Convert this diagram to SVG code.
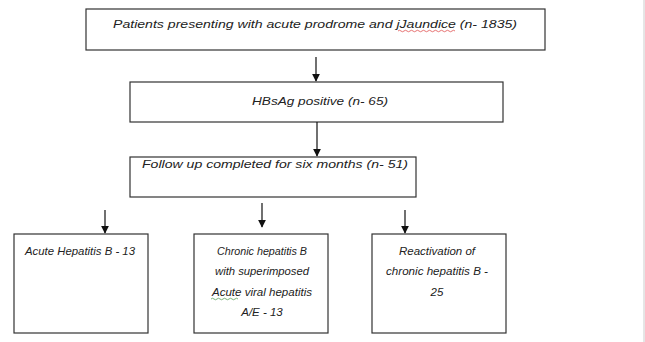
<svg xmlns="http://www.w3.org/2000/svg" width="645" height="342" viewBox="0 0 645 342">
<defs>
<style>
.box{fill:#fff;stroke:#333;stroke-width:1.2}
.t{font-family:"Liberation Sans",Arial,sans-serif;font-style:italic;font-size:11.5px;fill:#222}
.c{text-anchor:middle}
.conn line{stroke:#111;stroke-width:1.2}
.sq{fill:none;stroke-width:0.8}
</style>
<marker id="ah" viewBox="0 0 10 10" refX="9" refY="5" markerWidth="8" markerHeight="8" markerUnits="userSpaceOnUse" orient="auto">
<path d="M0,0 L10,5 L0,10 z" fill="#111"/>
</marker>
</defs>
<rect width="645" height="342" fill="#fff"/>
<line x1="644" y1="0" x2="644" y2="342" stroke="#ccc" stroke-width="1"/>
<g id="n1">
<rect class="box" x="86" y="9" width="459" height="41"/>
<text class="t" x="315" y="28" textLength="404" lengthAdjust="spacingAndGlyphs" text-anchor="middle">Patients presenting  with acute prodrome and jJaundice (n- 1835)</text>
<path class="sq" stroke="#e05050" d="M398,31 q1.5,-1.5 3,0 t3,0 t3,0 t3,0 t3,0 t3,0 t3,0 t3,0 t3,0 t3,0 t3,0 t3,0 t3,0 t3,0 t3,0 t3,0 t3,0 t3,0 t3,0"/>
</g>
<g id="n2">
<rect class="box" x="130" y="82" width="373" height="40"/>
<text class="t" x="320" y="105" textLength="136" lengthAdjust="spacingAndGlyphs" text-anchor="middle">HBsAg positive (n- 65)</text>
</g>
<g id="n3">
<rect class="box" x="130" y="157" width="286" height="40"/>
<text class="t" x="142" y="168" textLength="266" lengthAdjust="spacingAndGlyphs">Follow up completed  for six months (n- 51)</text>
</g>
<g id="n4">
<rect class="box" x="14" y="234" width="134" height="99"/>
<text class="t" x="25" y="255" textLength="110" lengthAdjust="spacingAndGlyphs">Acute Hepatitis  B - 13</text>
</g>
<g id="n5">
<rect class="box" x="194" y="234" width="134" height="99"/>
<text class="t c" x="262" y="255" textLength="90" lengthAdjust="spacingAndGlyphs">Chronic hepatitis B</text>
<text class="t c" x="262" y="275" textLength="94" lengthAdjust="spacingAndGlyphs">with superimposed</text>
<text class="t c" x="262" y="296" textLength="100" lengthAdjust="spacingAndGlyphs">Acute viral hepatitis</text>
<text class="t c" x="262" y="316">A/E - 13</text>
<path class="sq" stroke="#5aa05a" d="M211,299 q1.5,-1.5 3,0 t3,0 t3,0 t3,0 t3,0 t3,0 t3,0 t3,0 t3,0"/>
</g>
<g id="n6">
<rect class="box" x="372" y="234" width="134" height="99"/>
<text class="t c" x="437" y="255" textLength="76" lengthAdjust="spacingAndGlyphs">Reactivation  of</text>
<text class="t c" x="437" y="275" textLength="102" lengthAdjust="spacingAndGlyphs">chronic hepatitis  B -</text>
<text class="t c" x="437" y="296">25</text>
</g>
<g class="conn" id="connectors">
<line x1="316" y1="57" x2="316" y2="81" marker-end="url(#ah)"/>
<line x1="317" y1="122" x2="317" y2="156" marker-end="url(#ah)"/>
<line x1="105" y1="210" x2="105" y2="233" marker-end="url(#ah)"/>
<line x1="262" y1="203" x2="262" y2="227" marker-end="url(#ah)"/>
<line x1="405" y1="210" x2="405" y2="233" marker-end="url(#ah)"/>
</g>
</svg>
